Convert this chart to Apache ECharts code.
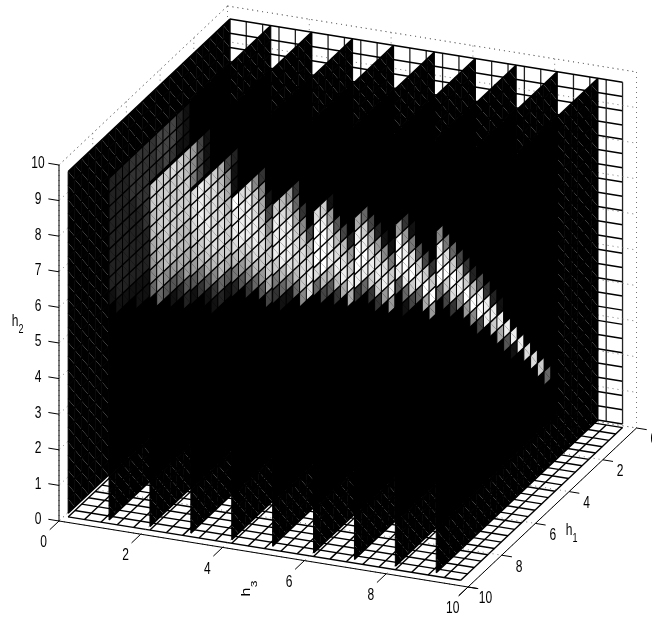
<!DOCTYPE html>
<html>
<head>
<meta charset="utf-8">
<title>slice plot</title>
<script src="https://cdn.jsdelivr.net/npm/echarts@6/dist/echarts.min.js"></script>
<style>
  html, body { margin: 0; padding: 0; background: #fff; }
  #chart { width: 652px; height: 618px; }
</style>
</head>
<body>
<div id="chart"></div>
<script>
// Tick labels of the three axes
const h1Ticks = [0, 2, 4, 6, 8, 10];
const h2Ticks = [0, 1, 2, 3, 4, 5, 6, 7, 8, 9, 10];
const h3Ticks = [0, 2, 4, 6, 8, 10];

// Slice planes along h3, and the cell edges shared by h1, h2 and h3
const slicePlanes = [0.1, 1.1, 2.1, 3.1, 4.1, 5.1, 6.1, 7.1, 8.1, 9.1];
const cellEdges = [0.1, 0.5, 0.9, 1.3, 1.7, 2.1, 2.5, 2.9, 3.3, 3.7, 4.1, 4.5, 4.9,
  5.3, 5.7, 6.1, 6.5, 6.9, 7.3, 7.7, 8.1, 8.5, 8.9, 9.3, 9.7];

// Slice values. One string per column, front column (high h1) first.
// Each hex digit is one cell from the top (high h2) down, 0 = black, f = white.
// Anything not listed is black.
const slice0 = [];
const slice1 = ['222222221', '2222222221', '2222222221', '3332222221', '33332222211',
  '33333322211', '333', '443', '444', '443', '221', '111'];
const slice2 = ['ccbba986', 'ccccbba96', 'cccccbb85', 'dcccccb951', 'cccccbba62',
  'bbcccbba952', '987', '444', '111'];
const slice3 = ['dddcb951', 'eeedcb73', 'dddedca51', 'cdddddb831', 'abcdddcb62',
  '48abccca51', '211'];
const slice4 = ['feedb72', 'deeec95', 'deeedb83', '8cdeedb6', '38acddc95', '00148bcca4'];
const slice5 = ['ceeec73', 'bdeeeb61', '9ceeed81', '36acddb6', '0038cddc8', '00004bded'];
const slice6 = ['dfffd6', 'cefffb4', '19deeb5', '005bdeb3', '0004bdea', '000029cea'];
const slice7 = ['aeffe3', '6cefe6', '04adec3', '0029dec3', '00018de9', '000017ce9'];
const slice8 = ['9ffe5', '39efe61', '017dfc4', '0005ce6', '00004cfa', '000003cf9'];
const slice9 = ['8eff6', '07dfc4', '006cfd3', '0004ce8', '00003cf9', '000002bf8', '0000005ef4',
  '00000003ee', '000000002ec', '0000000001ea', '00000000000e5', '000000000000e1',
  '0000000000000e', '00000000000000d', '000000000000000d', '0000000000000000c',
  '000000000000000006'];
const sliceData = [slice0, slice1, slice2, slice3, slice4, slice5, slice6, slice7, slice8, slice9];

// The view: where the corner (h3=0, h1=10, h2=0) lands and what one unit of each axis moves.
const origin = [59, 521];
const h3Step = [40.9, 6.6];
const h1Step = [16.85, -15.9];
const h2Step = [0, -35.6];

function project(h3, h1, h2) {
  return [
    origin[0] + h3 * h3Step[0] + (10 - h1) * h1Step[0] + h2 * h2Step[0],
    origin[1] + h3 * h3Step[1] + (10 - h1) * h1Step[1] + h2 * h2Step[1]
  ];
}

// Everything is drawn back to front, so the list order is the paint order.
const marks = [];

function addLine(a, b, color, width, dash) {
  marks.push({ kind: 'line', a: a, b: b, color: color, width: width, dash: dash });
}
function addDots(a, b) {
  addLine(a, b, '#777', 1, [1, 4]);
}
function addText(at, text, size, rotation) {
  marks.push({ kind: 'text', at: at, text: text, size: size, rotation: rotation || 0 });
}

// dotted box
addDots(project(0, 10, 10), project(0, 0, 10));
addDots(project(0, 0, 10), project(10, 0, 10));
addDots(project(10, 0, 10), project(10, 0, 0));

// back wall
const n = cellEdges.length;
const last = cellEdges[n - 1];
const first = cellEdges[0];
cellEdges.forEach(function (e) {
  addLine(project(e, first, first), project(e, first, last), '#222', 1.3);
  addLine(project(first, first, e), project(last, first, e), '#000', 1.5);
});
// floor
cellEdges.forEach(function (e) {
  addLine(project(e, first, 0), project(e, last, 0), '#000', 1.4);
  addLine(project(first, e, 0), project(last, e, 0), '#000', 1.4);
});

// dots lying over the wall and the floor
h2Ticks.forEach(function (t) {
  addDots(project(0, 0, t), project(10, 0, t));
  addDots(project(0, 0, t), project(0, 10, t));
});
h3Ticks.forEach(function (t) {
  addDots(project(t, 0, 0), project(t, 0, 10));
  addDots(project(t, 0, 0), project(t, 10, 0));
});
h1Ticks.forEach(function (t) {
  addDots(project(0, t, 0), project(10, t, 0));
  addDots(project(0, t, 0), project(0, t, 10));
});

// the slices. Two triangles per cell and no outline on them, the seam between
// the pair lets a bit of whatever is behind show through
slicePlanes.forEach(function (plane, s) {
  const columns = sliceData[s];
  for (let c = 0; c < n - 1; c++) {
    const text = columns[c] || '';
    const h1a = cellEdges[n - 1 - c];
    const h1b = cellEdges[n - 2 - c];
    for (let k = 0; k < n - 1; k++) {
      const digit = k < text.length ? parseInt(text[k], 16) : 0;
      const gray = digit * 17;
      const h2t = cellEdges[n - 1 - k];
      const h2b = cellEdges[n - 2 - k];
      const A = project(plane, h1a, h2t);
      const B = project(plane, h1b, h2t);
      const C = project(plane, h1b, h2b);
      const D = project(plane, h1a, h2b);
      marks.push({ kind: 'tri', pts: [A, B, C], gray: gray });
      marks.push({ kind: 'tri', pts: [A, C, D], gray: gray });
    }
  }
  cellEdges.forEach(function (e) {
    addLine(project(plane, e, first), project(plane, e, last), '#000', 1);
    addLine(project(plane, first, e), project(plane, last, e), '#000', 1.4);
  });
});

// axes
addLine(project(0, 10, 0), project(10.22, 10, 0), '#000', 1);
addLine(project(10, 10.55, 0), project(10, 0, 0), '#000', 1);
addLine(project(0, 10, 0), project(0, 10, 10), '#000', 1);
h3Ticks.forEach(function (t) {
  addLine(project(t, 10, 0), project(t, 10.55, 0), '#000', 1);
  const p = project(t, 10, 0);
  addText([p[0] - 15.3, p[1] + 21.7], String(t), 16);
});
h1Ticks.forEach(function (t) {
  addLine(project(10, t, 0), project(10.25, t, 0), '#000', 1);
  const p = project(10, t, 0);
  addText([p[0] + 17.4, p[1] + 11.9], String(t), 16);
});
h2Ticks.forEach(function (t) {
  addLine(project(0, 10, t), project(-0.26, 10, t), '#000', 1);
  const p = project(0, 10, t);
  addText([p[0] - 21, p[1] - 1], String(t), 16);
});
addText([15, 321.7], 'h', 16);
addText([21, 330], '2', 12);
addText([569, 530.7], 'h', 16);
addText([575, 539], '1', 12);
addText([247, 592], 'h', 16, Math.PI / 2);
addText([254.5, 584], '3', 12, Math.PI / 2);

function renderMark(params, api) {
  const m = marks[params.dataIndex];
  if (m.kind === 'tri') {
    return {
      type: 'polygon',
      shape: { points: m.pts.map(function (p) { return api.coord(p); }) },
      style: { fill: 'rgb(' + m.gray + ',' + m.gray + ',' + m.gray + ')', stroke: null }
    };
  }
  if (m.kind === 'line') {
    const a = api.coord(m.a);
    const b = api.coord(m.b);
    return {
      type: 'line',
      shape: { x1: a[0], y1: a[1], x2: b[0], y2: b[1] },
      style: { stroke: m.color, lineWidth: m.width, lineDash: m.dash || null, fill: null }
    };
  }
  const at = api.coord(m.at);
  const sideways = m.rotation !== 0;
  return {
    type: 'text',
    x: at[0],
    y: at[1],
    rotation: m.rotation,
    // the reference's text is squeezed across the reading direction of the page
    scaleX: sideways ? 1 : 0.75,
    scaleY: sideways ? 0.75 : 1,
    style: {
      text: m.text,
      x: 0,
      y: 0,
      align: 'center',
      verticalAlign: 'middle',
      fill: '#000',
      font: m.size + 'px "Liberation Sans", Arial, sans-serif'
    }
  };
}

const chart = echarts.init(document.getElementById('chart'), null, { renderer: 'canvas' });
chart.setOption({
  animation: false,
  backgroundColor: '#fff',
  grid: { left: 0, right: 0, top: 0, bottom: 0 },
  xAxis: { type: 'value', min: 0, max: 652, show: false },
  yAxis: { type: 'value', min: 0, max: 618, inverse: true, show: false },
  series: [{
    type: 'custom',
    silent: true,
    progressive: 0,
    clip: false,
    renderItem: renderMark,
    data: marks.map(function (m, i) { return [i]; })
  }]
});
</script>
</body>
</html>
